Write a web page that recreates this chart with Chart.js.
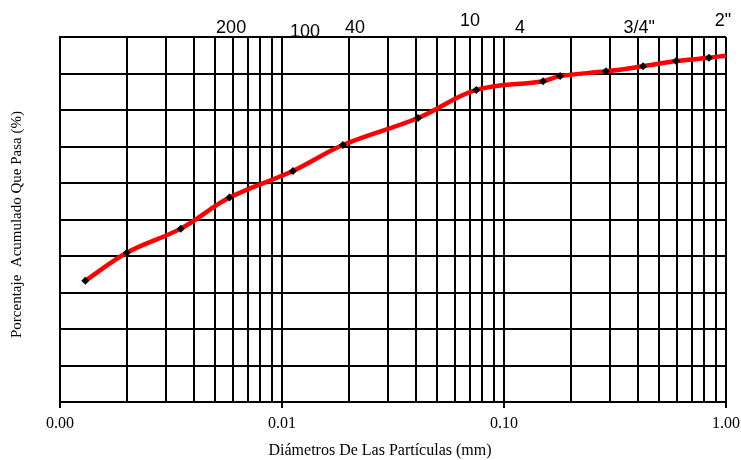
<!DOCTYPE html>
<html>
<head>
<meta charset="utf-8">
<script src="https://cdn.jsdelivr.net/npm/chart.js@4"></script>
<style>
  body { margin: 0; background: #fff; }
  #wrap { width: 741px; height: 460px; position: relative; }
</style>
</head>
<body>
<div id="wrap"><canvas id="curva"></canvas></div>
<script>
// diametros (mm) y porcentaje que pasa
let diametros = [0.0013, 0.002, 0.0035, 0.0058, 0.0112, 0.0188, 0.041, 0.075, 0.15, 0.179, 0.288, 0.423, 0.596, 0.838, 1.0]
let pasa = [33.2, 40.9, 47.5, 56.0, 63.3, 70.4, 77.8, 85.5, 87.9, 89.3, 90.6, 92.0, 93.4, 94.3, 94.9]

// tamices rotulados arriba del grafico
let tamices = ['200', '100', '40', '10', '4', '3/4"', '2"']
let aberturas = [0.0059, 0.0127, 0.0213, 0.0703, 0.118, 0.406, 0.969]

let tituloX = 'Diámetros De Las Partículas (mm)'
let tituloY = 'Porcentaje  Acumulado Que Pasa (%)'

let esPotencia = v => Math.abs(Math.log10(v) - Math.round(Math.log10(v))) < 1e-9
let serif = '"Liberation Serif", "Times New Roman", serif'

//Rotulos de tamices y titulos de ejes
let rotulos = {
    id: 'rotulos',
    afterDraw(chart) {
        let ctx = chart.ctx
        let x = chart.scales.x
        let area = chart.chartArea
        let alturas = [-4, 0, -4, -11, -4, -4, -11]
        ctx.save()
        ctx.fillStyle = '#000'
        ctx.textAlign = 'center'
        ctx.textBaseline = 'alphabetic'
        ctx.font = '18px "Liberation Sans", Arial, sans-serif'
        tamices.forEach((t, i) => {
            ctx.fillText(t, x.getPixelForValue(aberturas[i]), area.top + alturas[i])
        })

        ctx.textBaseline = 'middle'
        ctx.font = '16px ' + serif
        ctx.fillText(tituloX, (area.left + area.right) / 2 - 13, chart.height - 9)

        ctx.font = '15px ' + serif
        ctx.translate(17, (area.top + area.bottom) / 2 + 5)
        ctx.rotate(-Math.PI / 2)
        ctx.fillText(tituloY, 0, 0)
        ctx.restore()
    }
}

let puntos = diametros.map((d, i) => ({ x: d, y: pasa[i] }))

new Chart(document.getElementById('curva'), {
    type: 'line',
    data: {
        datasets: [{
            data: puntos,
            borderColor: '#ff0000',
            borderWidth: 4.5,
            tension: 0.35,
            pointStyle: 'rectRot',
            pointRadius: puntos.map((p, i) => i === puntos.length - 1 ? 0 : 4),
            pointBackgroundColor: '#000',
            pointBorderColor: '#000',
            pointBorderWidth: 0
        }]
    },
    options: {
        responsive: true,
        maintainAspectRatio: false,
        animation: false,
        layout: { padding: { top: 37, right: 15, left: 0, bottom: 0 } },
        plugins: {
            legend: { display: false },
            tooltip: { enabled: false }
        },
        scales: {
            x: {
                type: 'logarithmic',
                min: 0.001,
                max: 1,
                afterBuildTicks: s => {
                    let ticks = []
                    for (let e = -3; e < 0; e++) {
                        for (let k = 1; k < 10; k++) ticks.push({ value: k * Math.pow(10, e) })
                    }
                    ticks.push({ value: 1 })
                    s.ticks = ticks
                },
                afterFit: s => {
                    s.height = 58
                    s.paddingLeft = 0
                    s.paddingRight = 0
                },
                ticks: {
                    autoSkip: false,
                    maxRotation: 0,
                    padding: 6,
                    color: '#000',
                    font: { family: serif, size: 16 },
                    callback: v => esPotencia(v) ? v.toFixed(2) : ''
                },
                grid: {
                    color: '#000',
                    lineWidth: 2,
                    tickLength: 6,
                    tickColor: c => esPotencia(c.tick.value) ? '#000' : 'rgba(0,0,0,0)'
                },
                border: { color: '#000', width: 2 }
            },
            y: {
                min: 0,
                max: 100,
                afterFit: s => { s.width = 60 },
                ticks: { stepSize: 10, display: false },
                grid: { color: '#000', lineWidth: 2, drawTicks: false },
                border: { color: '#000', width: 2 }
            }
        }
    },
    plugins: [rotulos]
})
</script>
</body>
</html>
